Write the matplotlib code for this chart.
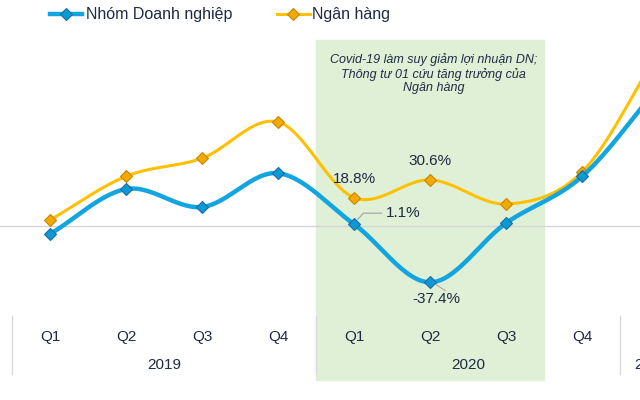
import numpy as np
import matplotlib
matplotlib.use("Agg")
import matplotlib.pyplot as plt
from matplotlib.transforms import blended_transform_factory
from matplotlib.patches import Rectangle

plt.rcParams['font.family'] = ['Liberation Sans', 'DejaVu Sans']

# du lieu (% tang truong loi nhuan)
quarters = ["Q1", "Q2", "Q3", "Q4", "Q1", "Q2", "Q3", "Q4", "Q1"]
years = ["2019", "2020", "2021"]
doanh_nghiep = [-5.3, 24.5, 12.6, 35.0, 1.1, -37.4, 2.0, 33.0, 92.0]
ngan_hang = [4.0, 33.0, 45.0, 69.0, 18.8, 30.6, 14.6, 36.0, 115.0]
note = "Covid-19 làm suy giảm lợi nhuận DN;\nThông tư 01 cứu tăng trưởng của\nNgân hàng"

navy = "#1F2A44"
blue = "#12A5E0"
yellow = "#FFC000"


def smooth(xs, ys, n=30):
    # duong cong kieu Catmull-Rom giong Excel "smoothed line"
    p = np.column_stack([xs, ys]).astype(float)
    p = np.vstack([p[0] - (p[1] - p[0]), p, p[-1] + (p[-1] - p[-2])])
    out = []
    t = np.linspace(0, 1, n)[:, None]
    for i in range(1, len(p) - 2):
        p0, p1, p2, p3 = p[i - 1], p[i], p[i + 1], p[i + 2]
        seg = 0.5 * ((2 * p1) + (-p0 + p2) * t + (2 * p0 - 5 * p1 + 4 * p2 - p3) * t ** 2
                     + (-p0 + 3 * p1 - 3 * p2 + p3) * t ** 3)
        out.append(seg)
    out = np.vstack(out)
    return out[:, 0], out[:, 1]


fig = plt.figure(figsize=(6.4, 4.0), dpi=100)
ax = fig.add_axes([0, 0.2125, 1, 0.7875])
ax.set_xlim(-0.66, 7.76)
ax.set_ylim(-59.1, 150)
ax.axis("off")

x = np.arange(len(quarters))
trans = blended_transform_factory(ax.transData, fig.transFigure)

# vung Covid
ax.add_patch(Rectangle((3.5, 0.05), 3.0, 0.85, transform=trans, color="#DFF0D6",
                       zorder=0, clip_on=False))
ax.text(5.04, 0.868, note, transform=trans, ha="center", va="top", fontsize=9,
        style="italic", color=navy, linespacing=1.2)

ax.axhline(0, color="#D5D5D5", lw=1, zorder=1)

sx, sy = smooth(x, ngan_hang)
ax.plot(sx, sy, color=yellow, lw=2.2, zorder=3)
ax.plot(x, ngan_hang, ls="none", marker="D", ms=6, mfc="#F2A900", mec="#C98500",
        mew=0.8, zorder=4)
sx, sy = smooth(x, doanh_nghiep)
ax.plot(sx, sy, color=blue, lw=3.2, zorder=5)
ax.plot(x, doanh_nghiep, ls="none", marker="D", ms=6, mfc="#0B9AD6", mec="#1C6C9E",
        mew=0.8, zorder=6)

# nhan gia tri
ax.text(4, ngan_hang[4] + 8, "18.8%", ha="center", va="bottom", fontsize=11, color=navy)
ax.text(5, ngan_hang[5] + 8, "30.6%", ha="center", va="bottom", fontsize=11, color=navy)
ax.text(4.42, 8.5, "1.1%", ha="left", va="center", fontsize=11, color=navy)
ax.plot([4.05, 4.12, 4.36], [4.5, 8.5, 8.5], color="#A0A0A0", lw=0.8, zorder=2)
ax.text(5.08, -44, "-37.4%", ha="center", va="top", fontsize=11, color=navy)
ax.plot([5.03, 5.2], [-37.4, -43], color="#C8A090", lw=0.8, zorder=2)

# truc x hai tang (Q1 2021 nam ngoai khung hinh)
for i, q in enumerate(quarters[:8]):
    ax.text(i, 0.158, q, transform=trans, ha="center", va="center", fontsize=11,
            color=navy, clip_on=False)
for j, y in enumerate(years[:2]):
    ax.text(1.5 + 4 * j, 0.088, y, transform=trans, ha="center", va="center",
            fontsize=11, color=navy, clip_on=False)
# nhan 2021 bi cat o mep phai nhu trong anh goc
ax.text(7.69, 0.088, years[2], transform=trans, ha="left", va="center",
        fontsize=11, color=navy, clip_on=False)
for xs in [-0.5, 3.5, 7.5]:
    ax.plot([xs, xs], [0.065, 0.21], transform=trans, color="#DADADA", lw=1,
            clip_on=False, zorder=0.5)

# chu thich
ax.plot([0.078, 0.128], [0.965, 0.965], transform=fig.transFigure, color=blue,
        lw=3.2, clip_on=False)
ax.plot([0.103], [0.965], transform=fig.transFigure, marker="D", ms=6, mfc="#0B9AD6",
        mec="#1C6C9E", mew=0.8, clip_on=False)
fig.text(0.134, 0.965, "Nhóm Doanh nghiệp", ha="left", va="center", fontsize=11.5,
         color=navy)
ax.plot([0.433, 0.484], [0.965, 0.965], transform=fig.transFigure, color=yellow,
        lw=2.2, clip_on=False)
ax.plot([0.458], [0.965], transform=fig.transFigure, marker="D", ms=6, mfc="#F2A900",
        mec="#C98500", mew=0.8, clip_on=False)
fig.text(0.488, 0.965, "Ngân hàng", ha="left", va="center", fontsize=11.5, color=navy)

fig.savefig("out.png", dpi=100)
